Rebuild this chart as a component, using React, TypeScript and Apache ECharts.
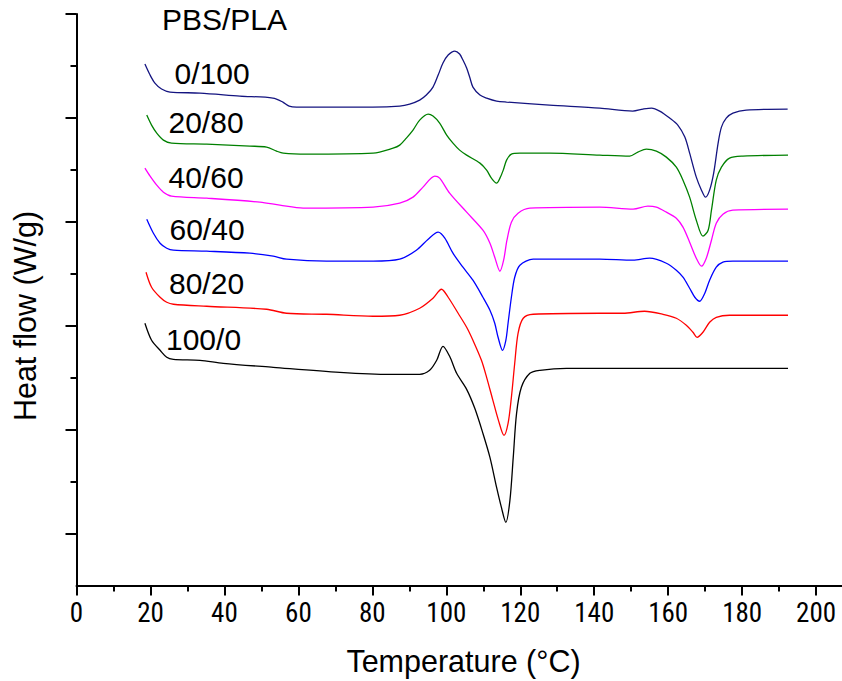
import React, { useEffect, useRef } from "react";
import * as echarts from "echarts";

// Temperature (°C) vs. heat flow (arbitrary, vertically offset units)
const pbs0pla100: number[][] = [
  [18.5, 52.1], [19.9, 51.0], [21.2, 50.2], [23.0, 49.6], [25.3, 49.3], [33.4, 49.2], [44.2, 48.9],
  [53.1, 48.7], [55.8, 48.3], [57.5, 47.9], [59.5, 47.8], [66.6, 47.8], [80.1, 47.8], [87.4, 47.9],
  [90.1, 48.1], [92.8, 48.5], [94.6, 49.0], [96.4, 49.8], [97.8, 51.0], [99.1, 52.2], [100.5, 53.0],
  [102.3, 53.4], [103.6, 53.1], [104.5, 52.5], [105.5, 51.7], [106.4, 50.7], [107.2, 49.8],
  [109.1, 49.0], [110.9, 48.7], [113.6, 48.4], [116.3, 48.3], [127.9, 48.0], [141.5, 47.7],
  [150.4, 47.4], [153.2, 47.6], [155.5, 47.7], [157.7, 47.4], [160.4, 46.7], [162.6, 46.0],
  [164.5, 44.8], [165.8, 43.2], [167.6, 40.8], [169.0, 39.5], [170.1, 38.8], [171.2, 39.5],
  [172.3, 41.2], [173.5, 44.2], [174.4, 45.8], [175.7, 46.7], [177.5, 47.2], [181.1, 47.5], [192.3, 47.6],
];
const pbs20pla80: number[][] = [
  [19.0, 47.0], [20.3, 46.0], [21.7, 45.2], [23.5, 44.5], [25.7, 44.2], [35.2, 44.1], [46.9, 43.9],
  [51.4, 43.8], [54.1, 43.4], [55.9, 43.2], [62.2, 43.1], [80.2, 43.2], [85.6, 43.7], [87.4, 44.0],
  [89.2, 44.7], [91.0, 45.5], [92.8, 46.5], [95.1, 47.1], [96.4, 46.9], [98.2, 46.2], [100.1, 45.0],
  [101.8, 44.2], [103.6, 43.5], [105.5, 43.0], [109.1, 42.2], [110.9, 41.5], [112.2, 40.7],
  [113.6, 40.2], [114.5, 40.7], [115.4, 41.5], [116.3, 42.5], [117.6, 43.1], [119.9, 43.2],
  [127.9, 43.2], [141.5, 43.0], [149.6, 42.9], [151.8, 43.3], [154.1, 43.6], [156.8, 43.4],
  [159.5, 42.8], [162.2, 41.8], [164.0, 40.5], [165.8, 38.8], [167.6, 36.5], [169.4, 34.9],
  [170.8, 35.5], [171.7, 37.5], [173.0, 40.5], [174.4, 41.8], [176.6, 42.7], [180.2, 42.9], [192.4, 43.0],
];
const pbs40pla60: number[][] = [
  [18.5, 41.7], [19.9, 40.9], [21.7, 40.0], [23.5, 39.3], [25.7, 38.9], [35.2, 38.7], [49.6, 38.3],
  [55.0, 38.0], [61.3, 37.7], [80.2, 37.8], [87.4, 38.2], [91.0, 38.8], [93.7, 39.8], [96.9, 40.9],
  [98.2, 40.7], [100.9, 39.2], [105.5, 37.3], [109.9, 35.5], [111.8, 34.2], [113.1, 32.8],
  [114.5, 31.4], [115.5, 32.5], [116.4, 34.5], [117.6, 36.3], [119.4, 37.2], [122.6, 37.7],
  [141.5, 37.8], [150.5, 37.6], [154.5, 37.9], [156.8, 37.8], [159.5, 37.3], [162.2, 36.7],
  [164.0, 35.8], [165.8, 34.3], [167.6, 32.7], [169.0, 31.9], [170.3, 32.7], [171.7, 34.5],
  [173.0, 36.2], [174.8, 37.1], [177.5, 37.5], [192.4, 37.6],
];
const pbs60pla40: number[][] = [
  [19.0, 36.6], [20.8, 35.2], [22.6, 34.2], [24.4, 33.7], [26.2, 33.5], [35.2, 33.4], [46.9, 33.2],
  [53.2, 32.9], [56.8, 32.6], [67.6, 32.4], [80.2, 32.4], [87.4, 32.6], [91.9, 33.5], [95.1, 34.6],
  [97.8, 35.3], [99.6, 34.7], [101.8, 33.2], [104.5, 31.8], [107.2, 30.5], [109.9, 28.8],
  [111.8, 27.5], [113.1, 26.2], [114.0, 24.8], [115.2, 23.5], [116.1, 24.5], [116.7, 26.2],
  [117.6, 28.8], [118.5, 30.8], [119.9, 32.0], [123.5, 32.6], [141.5, 32.6], [150.5, 32.5],
  [155.0, 32.7], [159.5, 32.2], [162.2, 31.5], [164.0, 30.8], [165.8, 29.7], [167.2, 28.8],
  [168.5, 28.4], [169.9, 29.2], [171.2, 30.5], [173.0, 31.8], [174.8, 32.3], [177.5, 32.4], [192.4, 32.4],
];
const pbs80pla20: number[][] = [
  [18.8, 31.3], [20.3, 29.8], [22.6, 28.8], [24.4, 28.3], [26.2, 28.1], [35.2, 27.9], [51.4, 27.6],
  [56.8, 27.2], [67.6, 27.1], [80.2, 26.9], [87.4, 27.0], [92.8, 27.7], [96.4, 28.7], [98.7, 29.6],
  [100.5, 28.8], [103.2, 27.2], [105.5, 25.8], [107.2, 24.5], [109.5, 22.5], [110.9, 20.8],
  [112.6, 18.5], [114.1, 16.5], [115.6, 15.0], [116.7, 16.2], [117.6, 18.8], [118.5, 22.2],
  [119.4, 25.2], [120.8, 26.7], [123.5, 27.1], [141.5, 27.2], [147.8, 27.2], [153.6, 27.4],
  [158.6, 27.1], [162.2, 26.7], [164.9, 26.0], [166.7, 25.3], [167.8, 24.8], [169.4, 25.3],
  [171.2, 26.3], [173.0, 26.8], [176.6, 27.0], [192.4, 27.0],
];
const pbs100pla0: number[][] = [
  [18.5, 26.2], [20.3, 24.5], [22.6, 23.5], [24.4, 22.8], [26.2, 22.6], [33.4, 22.5], [39.7, 22.2],
  [53.2, 21.8], [71.2, 21.3], [84.7, 21.1], [92.8, 21.1], [95.5, 21.5], [97.4, 22.5], [99.1, 23.9],
  [100.9, 22.9], [102.8, 21.2], [105.5, 19.6], [107.7, 17.7], [109.9, 15.2], [111.8, 12.8],
  [113.6, 9.8], [114.9, 7.8], [116.1, 6.3], [117.2, 8.5], [118.1, 12.8], [119.0, 17.2],
  [120.3, 19.8], [122.6, 21.2], [125.3, 21.5], [132.5, 21.7], [141.5, 21.7], [192.4, 21.7],
];

const seriesNames = ["0/100", "20/80", "40/60", "60/40", "80/20", "100/0"];
const seriesData = [pbs0pla100, pbs20pla80, pbs40pla60, pbs60pla40, pbs80pla20, pbs100pla0];
const seriesColors = ["#141480", "#008000", "#ff00ff", "#0000ff", "#ff0000", "#000000"];

const xMajorTicks = [0, 20, 40, 60, 80, 100, 120, 140, 160, 180, 200];
const xMinorTicks = [10, 30, 50, 70, 90, 110, 130, 150, 170, 190];
const yMajorTicks = [5.19, 15.57, 25.95, 36.33, 46.71, 57.09];
const yMinorTicks = [10.38, 20.76, 31.14, 41.52, 51.9];

const legendTitle = "PBS/PLA";
const xTitle = "Temperature (°C)";
const yTitle = "Heat flow (W/g)";

const FONT = "'Liberation Sans', Arial, sans-serif";
const NARROW = "'Liberation Sans Narrow', 'Arial Narrow', 'Roboto Condensed', 'DejaVu Sans Condensed', sans-serif";

export default function App() {
  const ref = useRef<HTMLDivElement>(null);
  useEffect(() => {
    if (!ref.current) return;
    const chart = echarts.init(ref.current, undefined, { renderer: "svg" });
    const labelPos = [
      [174.5, 73], [168.5, 122.5], [168.5, 177], [169.5, 229], [169, 283], [166, 339],
    ];
    const graphics: any[] = [
      { type: "text", x: 162, y: 19, style: { text: legendTitle, font: `30px ${FONT}`, fill: "#000", textVerticalAlign: "middle" } },
      { type: "text", x: 463.5, y: 661, style: { text: xTitle, font: `30.5px ${FONT}`, fill: "#000", textAlign: "center", textVerticalAlign: "middle" } },
      { type: "text", x: 25, y: 316, rotation: Math.PI / 2, style: { text: yTitle, font: `30.5px ${FONT}`, fill: "#000", textAlign: "center", textVerticalAlign: "middle" } },
    ];
    seriesNames.forEach((n, i) => {
      graphics.push({ type: "text", x: labelPos[i][0], y: labelPos[i][1], style: { text: n, font: `30px ${FONT}`, fill: "#000", textVerticalAlign: "middle" } });
    });
    chart.setOption({
      animation: false,
      backgroundColor: "#ffffff",
      grid: { left: 76.5, right: 0, top: 14, bottom: 95.5, containLabel: false },
      xAxis: [
        {
          type: "value", min: 0, max: 207, position: "bottom",
          axisLine: { show: true, onZero: false, lineStyle: { color: "#000", width: 2 } },
          axisTick: { show: true, customValues: xMajorTicks, length: 10, lineStyle: { color: "#000", width: 2 } },
          axisLabel: { show: true, customValues: xMajorTicks, margin: 14, color: "#000", fontSize: 27, fontFamily: NARROW },
          splitLine: { show: false },
        },
        {
          type: "value", min: 0, max: 207, position: "bottom",
          axisLine: { show: false },
          axisTick: { show: true, customValues: xMinorTicks, length: 6, lineStyle: { color: "#000", width: 2 } },
          axisLabel: { show: false },
          splitLine: { show: false },
        },
      ],
      yAxis: [
        {
          type: "value", min: 0, max: 57.1, position: "left",
          axisLine: { show: true, onZero: false, lineStyle: { color: "#000", width: 2 } },
          axisTick: { show: true, customValues: yMajorTicks, length: 11, lineStyle: { color: "#000", width: 2 } },
          axisLabel: { show: false },
          splitLine: { show: false },
        },
        {
          type: "value", min: 0, max: 57.1, position: "left",
          axisLine: { show: false },
          axisTick: { show: true, customValues: yMinorTicks, length: 6, lineStyle: { color: "#000", width: 2 } },
          axisLabel: { show: false },
          splitLine: { show: false },
        },
      ],
      graphic: graphics,
      series: seriesData.map((d, i) => ({
        name: seriesNames[i],
        type: "line",
        xAxisIndex: 0,
        yAxisIndex: 0,
        data: d,
        showSymbol: false,
        smooth: 0.3,
        lineStyle: { color: seriesColors[i], width: 1.3 },
        itemStyle: { color: seriesColors[i] },
      })),
    });
    return () => chart.dispose();
  }, []);
  return (
    <div
      ref={ref}
      style={{ position: "absolute", left: 0, top: 0, width: 842, height: 681, background: "#fff" }}
    />
  );
}
